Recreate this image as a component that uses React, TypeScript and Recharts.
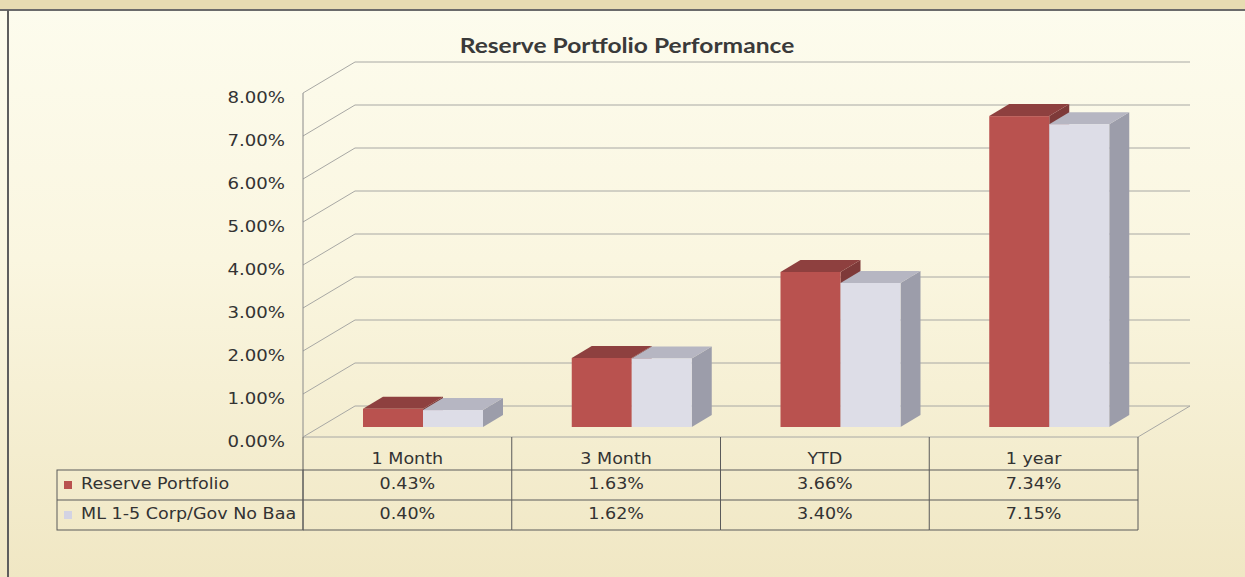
import { BarChart, Bar, XAxis, YAxis, CartesianGrid } from "recharts";

const categories = ["1 Month", "3 Month", "YTD", "1 year"];
const seriesNames = ["Reserve Portfolio", "ML 1-5 Corp/Gov No Baa"];
const reserveValues = [0.43, 1.63, 3.66, 7.34];
const benchmarkValues = [0.4, 1.62, 3.4, 7.15];
const yTicks = [0, 1, 2, 3, 4, 5, 6, 7, 8];

const data = categories.map((name, i) => ({
  name,
  reserve: reserveValues[i],
  benchmark: benchmarkValues[i],
}));

const W = 1245;
const H = 577;
const PLOT_LEFT = 303;
const PLOT_RIGHT = 1138;
const PLOT_TOP = 93;
const AXIS_H = 140;
const COL_W = (PLOT_RIGHT - PLOT_LEFT) / categories.length;

// back wall depth
const WALL_DX = 52;
const WALL_DY = 31;
// where the bars sit in depth, and how thick they are
const BAR_DX = 16;
const BAR_DY = 10;
const TOP_DX = 20;
const TOP_DY = 12;

const FONT = "'DejaVu Sans', Verdana, sans-serif";
const STRETCH = 1.17; // the source text is a bit wide
const GRID = "#a8a8a4";
const BORDER = "#5a5a5a";

const palette = [
  { front: "#b9524f", top: "#8e403f", side: "#7e3a39", key: "#b9524f" },
  { front: "#dddde7", top: "#b6b6c2", side: "#9c9daa", key: "#d3d3e3" },
];

function Txt({ x, y, anchor = "middle", size = 15, children }: any) {
  return (
    <text
      transform={`translate(${x},${y}) scale(${STRETCH},1)`}
      textAnchor={anchor}
      dominantBaseline="middle"
      fontFamily={FONT}
      fontSize={size}
      fill="#333"
    >
      {children}
    </text>
  );
}

function make3DBar(c: { front: string; top: string; side: string }) {
  return (props: any) => {
    const { x, y, width, height } = props;
    if (height == null || width == null) return <g />;
    const base = y + height - BAR_DY;
    const h = height * 0.985;
    const left = x + BAR_DX;
    const right = left + width;
    const top = base - h;
    return (
      <g>
        <polygon
          points={`${right},${top} ${right + TOP_DX},${top - TOP_DY} ${right + TOP_DX},${base - TOP_DY} ${right},${base}`}
          fill={c.side}
        />
        <polygon
          points={`${left},${top} ${right},${top} ${right + TOP_DX},${top - TOP_DY} ${left + TOP_DX},${top - TOP_DY}`}
          fill={c.top}
        />
        <rect x={left} y={top} width={width} height={h} fill={c.front} />
      </g>
    );
  };
}

function gridLine(props: any) {
  const { x1, y1, x2, key } = props;
  const isFloor = Math.abs(y1 - (H - AXIS_H)) < 1;
  return (
    <g key={key}>
      <polyline
        points={`${x1},${y1} ${x1 + WALL_DX},${y1 - WALL_DY} ${x2 + WALL_DX},${y1 - WALL_DY}`}
        fill="none"
        stroke={GRID}
        strokeWidth={1}
      />
      {isFloor && (
        <line x1={x2} y1={y1} x2={x2 + WALL_DX} y2={y1 - WALL_DY} stroke={GRID} strokeWidth={1} />
      )}
    </g>
  );
}

function YTick(props: any) {
  const { x, y, payload } = props;
  return (
    <Txt x={x} y={y + 5} anchor="end" size={15.5}>
      {payload.value.toFixed(2) + "%"}
    </Txt>
  );
}

function TableColumn(props: any) {
  const { payload, index } = props;
  const cx = payload.coordinate;
  const x0 = cx - COL_W / 2;
  const top = H - AXIS_H;
  const r1 = top + 33;
  const r2 = r1 + 30;
  const r3 = r2 + 30;
  return (
    <g>
      <line x1={x0} y1={top} x2={x0 + COL_W} y2={top} stroke={GRID} />
      <line x1={x0} y1={top} x2={x0} y2={r3} stroke={BORDER} />
      {index === categories.length - 1 && (
        <line x1={x0 + COL_W} y1={top} x2={x0 + COL_W} y2={r3} stroke={BORDER} />
      )}
      <line x1={x0} y1={r1} x2={x0 + COL_W} y2={r1} stroke={BORDER} />
      <line x1={x0} y1={r2} x2={x0 + COL_W} y2={r2} stroke={BORDER} />
      <line x1={x0} y1={r3} x2={x0 + COL_W} y2={r3} stroke={BORDER} />
      <Txt x={cx} y={top + 23}>{payload.value}</Txt>
      <Txt x={cx} y={r1 + 15}>{reserveValues[index].toFixed(2) + "%"}</Txt>
      <Txt x={cx} y={r2 + 15}>{benchmarkValues[index].toFixed(2) + "%"}</Txt>
      {index === 0 && (
        <g>
          <rect x={57} y={r1} width={x0 - 57} height={r3 - r1} fill="none" stroke={BORDER} />
          <line x1={57} y1={r2} x2={x0} y2={r2} stroke={BORDER} />
          {seriesNames.map((s, i) => (
            <g key={s}>
              <rect x={64} y={(i === 0 ? r1 : r2) + 11} width={8} height={8} fill={palette[i].key} />
              <Txt x={81} y={(i === 0 ? r1 : r2) + 15} anchor="start" size={15}>
                {s}
              </Txt>
            </g>
          ))}
        </g>
      )}
    </g>
  );
}

export default function App() {
  return (
    <div
      style={{
        position: "absolute",
        left: 0,
        top: 0,
        width: W,
        height: H,
        overflow: "hidden",
        background: "linear-gradient(180deg, #fdfcee 0%, #faf6e0 45%, #f0e7c4 100%)",
      }}
    >
      <div style={{ position: "absolute", left: 0, top: 0, width: W, height: 9, background: "#e7dcb2" }} />
      <div style={{ position: "absolute", left: 0, top: 9, width: W, height: 2, background: "#6b6b6b" }} />
      <div style={{ position: "absolute", left: 7, top: 10, width: 2, height: H - 10, background: "#5e5e5e" }} />
      <div
        style={{
          position: "absolute",
          left: 8,
          top: 32,
          width: W - 8,
          textAlign: "center",
          fontFamily: "Lato, 'Open Sans', sans-serif",
          fontWeight: 700,
          fontSize: 21,
          color: "#3a3a3a",
        }}
      >
        <span style={{ display: "inline-block", transform: `scaleX(${STRETCH})` }}>
          Reserve Portfolio Performance
        </span>
      </div>
      <div style={{ position: "absolute", left: 0, top: 0 }}>
        <BarChart
          width={W}
          height={H}
          data={data}
          margin={{ top: PLOT_TOP, right: W - PLOT_RIGHT, bottom: 0, left: 0 }}
          barGap={0}
          barSize={60}
        >
          <CartesianGrid horizontal={gridLine} vertical={false} />
          <XAxis
            dataKey="name"
            height={AXIS_H}
            axisLine={false}
            tickLine={false}
            tickSize={0}
            interval={0}
            tick={<TableColumn />}
          />
          <YAxis
            width={PLOT_LEFT}
            domain={[0, 8]}
            ticks={yTicks}
            interval={0}
            axisLine={{ stroke: "#8a8a8a" }}
            tickLine={false}
            tickMargin={12}
            tick={<YTick />}
          />
          <Bar dataKey="reserve" isAnimationActive={false} shape={make3DBar(palette[0])} />
          <Bar dataKey="benchmark" isAnimationActive={false} shape={make3DBar(palette[1])} />
        </BarChart>
      </div>
    </div>
  );
}
